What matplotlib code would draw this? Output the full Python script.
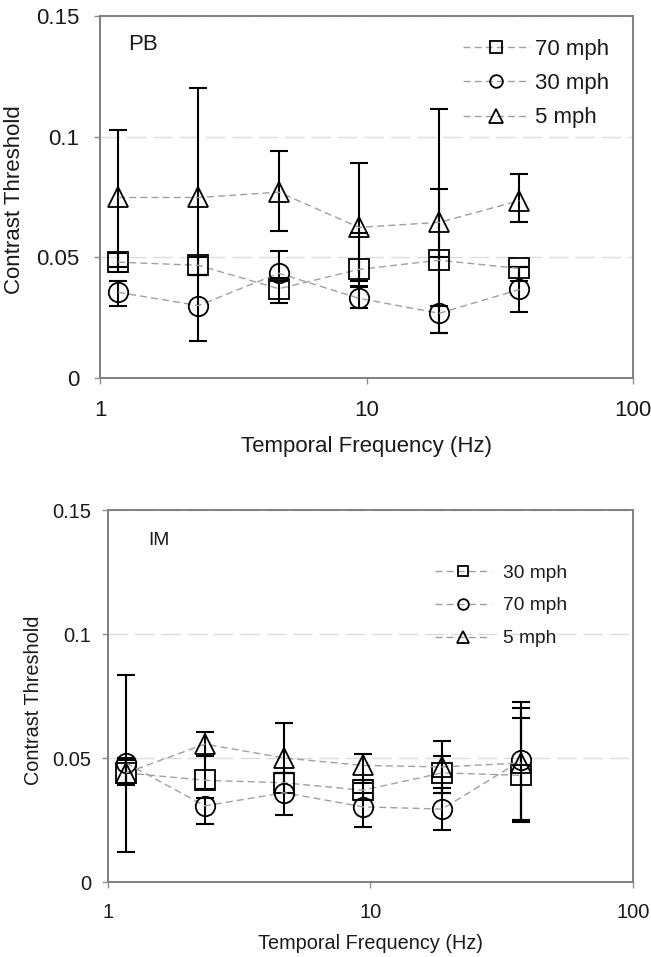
import matplotlib
matplotlib.use("Agg")
import matplotlib.pyplot as plt
import numpy as np
from matplotlib.ticker import FixedLocator, FixedFormatter, NullLocator

plt.rcParams['font.family'] = ['Liberation Sans', 'DejaVu Sans']

freqs = [1.17, 2.34, 4.69, 9.38, 18.75, 37.5]

# Top panel (PB)
pb_70 = [0.048, 0.0467, 0.037, 0.045, 0.0488, 0.0454]
pb_70_lo = [0.044, 0.0426, 0.031, 0.038, 0.0186, 0.040]
pb_70_hi = [0.052, 0.050, 0.040, 0.060, 0.0785, 0.046]
pb_30 = [0.0355, 0.030, 0.0434, 0.033, 0.0268, 0.0367]
pb_30_lo = [0.0298, 0.0153, 0.0413, 0.029, 0.0186, 0.0274]
pb_30_hi = [0.040, 0.0426, 0.0525, 0.0376, 0.030, 0.046]
pb_5 = [0.0748, 0.0748, 0.077, 0.0624, 0.0645, 0.0735]
pb_5_lo = [0.046, 0.0426, 0.061, 0.040, 0.050, 0.0645]
pb_5_hi = [0.1029, 0.120, 0.094, 0.089, 0.1116, 0.0847]

# Bottom panel (IM)
im_30 = [0.044, 0.041, 0.040, 0.037, 0.044, 0.043]
im_30_lo = [0.039, 0.0375, 0.036, 0.033, 0.036, 0.025]
im_30_hi = [0.049, 0.051, 0.044, 0.041, 0.051, 0.066]
im_70 = [0.048, 0.0307, 0.036, 0.0303, 0.0294, 0.049]
im_70_lo = [0.040, 0.0234, 0.027, 0.022, 0.021, 0.025]
im_70_hi = [0.050, 0.034, 0.044, 0.036, 0.038, 0.070]
im_5 = [0.044, 0.0556, 0.050, 0.047, 0.0464, 0.048]
im_5_lo = [0.012, 0.0508, 0.044, 0.040, 0.036, 0.024]
im_5_hi = [0.0835, 0.0605, 0.064, 0.0516, 0.057, 0.0726]

y_ticks = [0, 0.05, 0.1, 0.15]
y_tick_labels = ['0', '0.05', '0.1', '0.15']
x_ticks = [1, 10, 100]
x_tick_labels = ['1', '10', '100']

fig = plt.figure(figsize=(6.51, 9.57), dpi=100)

W, H = 651, 957
def rect(l, t, r, b):
    return [l / W, 1 - b / H, (r - l) / W, (b - t) / H]

ax1 = fig.add_axes(rect(100, 16, 633, 378))
ax2 = fig.add_axes(rect(108, 510, 633, 882))

def draw_panel(ax, series, fs_tick, fs_label, tick_pad_x, tick_pad_y, label_text,
               label_xy, label_fs, leg_anchor, leg_fs, leg_scale, leg_hlen,
               leg_tpad, leg_spacing, ylab_xy, xlab_y):
    for s in series:
        y, lo, hi, marker, lab = s
        y = np.array(y); lo = np.array(lo); hi = np.array(hi)
        ax.errorbar(freqs, y, yerr=[y - lo, hi - y], fmt='none', ecolor='black',
                    elinewidth=1.5, capsize=6.5, capthick=1.5, zorder=3)
    handles = []
    for s in series:
        y, lo, hi, marker, lab = s
        ms = 15 if marker == '^' else 14
        h, = ax.plot(freqs, y, linestyle=(0, (5, 3)), color='#a0a0a0', lw=1,
                     marker=marker, mfc='none', mec='black', ms=ms, mew=1.3,
                     label=lab, zorder=4)
        handles.append(h)
    ax.set_xscale('log')
    ax.set_xlim(1, 100)
    ax.set_ylim(0, 0.15)
    ax.xaxis.set_major_locator(FixedLocator(x_ticks))
    ax.xaxis.set_major_formatter(FixedFormatter(x_tick_labels))
    ax.xaxis.set_minor_locator(NullLocator())
    ax.yaxis.set_major_locator(FixedLocator(y_ticks))
    ax.yaxis.set_major_formatter(FixedFormatter(y_tick_labels))
    ax.grid(axis='y', color='#dcdcdc', linestyle=(0, (14, 5)), lw=1)
    ax.set_axisbelow(True)
    for sp in ax.spines.values():
        sp.set_color('#808080')
        sp.set_linewidth(1.4)
    ax.tick_params(axis='both', direction='out', length=4, width=1, color='#909090',
                   labelsize=fs_tick, labelcolor='#1a1a1a')
    ax.tick_params(axis='x', pad=tick_pad_x)
    ax.tick_params(axis='y', pad=tick_pad_y)
    ax.set_xlabel('Temporal Frequency (Hz)', fontsize=fs_label, color='#1a1a1a')
    ax.set_ylabel('Contrast Threshold', fontsize=fs_label, color='#1a1a1a')
    ax.yaxis.set_label_coords(ylab_xy[0], ylab_xy[1])
    ax.xaxis.set_label_coords(0.5, xlab_y)
    ax.text(label_xy[0], label_xy[1], label_text, transform=ax.transAxes,
            fontsize=label_fs, ha='left', va='center', color='#1a1a1a')
    leg = ax.legend(handles=handles, loc='upper left', bbox_to_anchor=leg_anchor,
                    frameon=False, fontsize=leg_fs, markerscale=leg_scale,
                    handlelength=leg_hlen, handletextpad=leg_tpad,
                    labelspacing=leg_spacing, borderpad=0, borderaxespad=0)
    for t in leg.get_texts():
        t.set_color('#1a1a1a')

draw_panel(ax1,
           [(pb_70, pb_70_lo, pb_70_hi, 's', '70 mph'),
            (pb_30, pb_30_lo, pb_30_hi, 'o', '30 mph'),
            (pb_5, pb_5_lo, pb_5_hi, '^', '5 mph')],
           fs_tick=16, fs_label=16, tick_pad_x=12, tick_pad_y=11,
           label_text='PB', label_xy=(0.0525, 0.92), label_fs=16,
           leg_anchor=(0.681, 0.937), leg_fs=16, leg_scale=0.65, leg_hlen=3.0,
           leg_tpad=0.25, leg_spacing=0.6, ylab_xy=(-0.141, 0.494), xlab_y=-0.16)

draw_panel(ax2,
           [(im_30, im_30_lo, im_30_hi, 's', '30 mph'),
            (im_70, im_70_lo, im_70_hi, 'o', '70 mph'),
            (im_5, im_5_lo, im_5_hi, '^', '5 mph')],
           fs_tick=14.5, fs_label=14.3, tick_pad_x=11, tick_pad_y=8,
           label_text='IM', label_xy=(0.076, 0.919), label_fs=13.8,
           leg_anchor=(0.623, 0.854), leg_fs=13.8, leg_scale=0.55, leg_hlen=2.9,
           leg_tpad=0.63, leg_spacing=0.8, ylab_xy=(-0.124, 0.489), xlab_y=-0.14)

fig.savefig('out.png', dpi=100)
